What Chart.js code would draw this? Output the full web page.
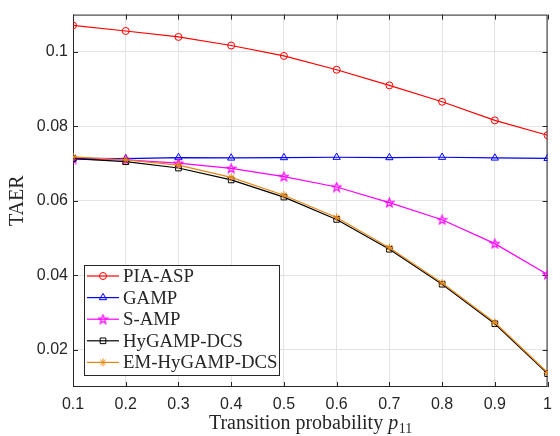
<!DOCTYPE html>
<html>
<head>
<meta charset="utf-8">
<script src="https://cdn.jsdelivr.net/npm/chart.js@4/dist/chart.umd.min.js"></script>
<style>
  html, body { margin: 0; padding: 0; background: #fff; }
  #wrap { width: 560px; height: 436px; }
</style>
</head>
<body>
<div id="wrap"><canvas id="grafico" width="560" height="436"></canvas></div>
<script>
const pValues = [0.1, 0.2, 0.3, 0.4, 0.5, 0.6, 0.7, 0.8, 0.9, 1.0];
const piaAsp = [0.1071, 0.1056, 0.1040, 0.1017, 0.0989, 0.0952, 0.0910, 0.0866, 0.0816, 0.0776];
const gamp = [0.0714, 0.0713, 0.0716, 0.0715, 0.0716, 0.0717, 0.0716, 0.0717, 0.0715, 0.0714];
const sAmp = [0.0712, 0.0710, 0.0701, 0.0687, 0.0665, 0.0637, 0.0595, 0.0549, 0.0485, 0.0402];
const hyGampDcs = [0.0713, 0.0705, 0.0688, 0.0656, 0.0610, 0.0550, 0.0470, 0.0376, 0.0270, 0.0136];
const emHyGampDcs = [0.0718, 0.0710, 0.0696, 0.0663, 0.0615, 0.0555, 0.0474, 0.0379, 0.0273, 0.0139];
const seriesNames = ["PIA-ASP", "GAMP", "S-AMP", "HyGAMP-DCS", "EM-HyGAMP-DCS"];
const xTicks = [0.1, 0.2, 0.3, 0.4, 0.5, 0.6, 0.7, 0.8, 0.9, 1];
const yTicks = [0.02, 0.04, 0.06, 0.08, 0.1];

const axisColor = "#262626";
const gridColor = "#e3e3e3";
const serif = "'Liberation Serif', 'Times New Roman', serif";
const sans = "'Liberation Sans', Arial, sans-serif";

// estrella de 5 puntas (pentagram de matlab)
function makePentagram(color) {
  const c = document.createElement("canvas");
  c.width = 11; c.height = 11;
  const g = c.getContext("2d");
  g.strokeStyle = color;
  g.fillStyle = color;
  g.lineWidth = 1.2;
  g.beginPath();
  for (let i = 0; i < 10; i++) {
    const r = i % 2 === 0 ? 4.6 : 1.9;
    const a = -Math.PI / 2 + i * Math.PI / 5;
    const px = 5.5 + r * Math.cos(a);
    const py = 5.8 + r * Math.sin(a);
    if (i === 0) g.moveTo(px, py); else g.lineTo(px, py);
  }
  g.closePath();
  g.stroke();
  return c;
}

const estilos = [
  { color: "#ff0000", pointStyle: "circle", radius: 3.5 },
  { color: "#0000ff", pointStyle: "triangle", radius: 4.2 },
  { color: "#ff00ff", pointStyle: makePentagram("#ff00ff"), radius: 4 },
  { color: "#000000", pointStyle: "rect", radius: 4 },
  { color: "rgb(230,135,20)", pointStyle: "star", radius: 4 },
];
const valores = [piaAsp, gamp, sAmp, hyGampDcs, emHyGampDcs];

const datasets = valores.map((serie, i) => ({
  label: seriesNames[i],
  data: serie.map((v, j) => ({ x: pValues[j], y: v })),
  borderColor: estilos[i].color,
  backgroundColor: "rgba(0,0,0,0)",
  borderWidth: 1.2,
  pointStyle: estilos[i].pointStyle,
  pointRadius: estilos[i].radius,
  pointBorderColor: estilos[i].color,
  pointBackgroundColor: "rgba(0,0,0,0)",
  pointBorderWidth: 1,
  tension: 0,
  order: valores.length - i,
}));

const ejesMatlab = {
  id: "ejesMatlab",
  beforeDatasetsDraw(chart) {
    const { ctx, chartArea: a, scales } = chart;
    ctx.save();
    ctx.strokeStyle = axisColor;
    ctx.lineWidth = 1;
    ctx.strokeRect(a.left + 0.5, a.top + 0.5, a.right - a.left - 1, a.bottom - a.top - 1);
    ctx.beginPath();
    xTicks.forEach(v => {
      const x = Math.round(scales.x.getPixelForValue(v)) + 0.5;
      ctx.moveTo(x, a.bottom); ctx.lineTo(x, a.bottom - 5);
      ctx.moveTo(x, a.top); ctx.lineTo(x, a.top + 5);
    });
    yTicks.forEach(v => {
      const y = Math.round(scales.y.getPixelForValue(v)) + 0.5;
      ctx.moveTo(a.left, y); ctx.lineTo(a.left + 5, y);
      ctx.moveTo(a.right, y); ctx.lineTo(a.right - 5, y);
    });
    ctx.stroke();
    ctx.restore();
  },
  afterDraw(chart) {
    const { ctx, chartArea: a } = chart;
    ctx.save();
    ctx.fillStyle = axisColor;

    // titulo eje x con subindice
    const parte1 = "Transition probability ";
    ctx.font = "20px " + serif;
    const w1 = ctx.measureText(parte1).width;
    ctx.font = "italic 20px " + serif;
    const w2 = ctx.measureText("p").width;
    ctx.font = "14px " + serif;
    const w3 = ctx.measureText("11").width;
    let x0 = (a.left + a.right) / 2 - (w1 + w2 + w3) / 2;
    const base = 429;
    ctx.textBaseline = "alphabetic";
    ctx.textAlign = "left";
    ctx.font = "20px " + serif;
    ctx.fillText(parte1, x0, base);
    ctx.font = "italic 20px " + serif;
    ctx.fillText("p", x0 + w1, base);
    ctx.font = "14px " + serif;
    ctx.fillText("11", x0 + w1 + w2 + 0.5, base + 4);

    // titulo eje y
    ctx.translate(18, (a.top + a.bottom) / 2);
    ctx.rotate(-Math.PI / 2);
    ctx.font = "20px " + serif;
    ctx.textAlign = "center";
    ctx.textBaseline = "middle";
    ctx.fillText("TAER", 0, 0);
    ctx.restore();

    // leyenda
    ctx.save();
    const box = { left: 84.5, top: 265.5, width: 195, height: 110 };
    ctx.fillStyle = "#ffffff";
    ctx.fillRect(box.left, box.top, box.width, box.height);
    ctx.strokeStyle = axisColor;
    ctx.lineWidth = 1;
    ctx.strokeRect(box.left, box.top, box.width, box.height);
    ctx.font = "18.8px " + serif;
    ctx.textBaseline = "middle";
    ctx.textAlign = "left";
    seriesNames.forEach((name, i) => {
      const y = 276 + i * 21.6;
      const est = estilos[i];
      ctx.strokeStyle = est.color;
      ctx.lineWidth = 1.2;
      ctx.beginPath();
      ctx.moveTo(87, y);
      ctx.lineTo(119, y);
      ctx.stroke();
      ctx.lineWidth = 1;
      ctx.fillStyle = "rgba(0,0,0,0)";
      Chart.helpers.drawPoint(ctx, { pointStyle: est.pointStyle, radius: est.radius, rotation: 0, borderWidth: 1 }, 103, y);
      ctx.fillStyle = axisColor;
      ctx.fillText(name, 123, y + 1);
    });
    ctx.restore();
  },
};

const ctx = document.getElementById("grafico").getContext("2d");
const miGrafico = new Chart(ctx, {
  type: "line",
  data: { datasets: datasets },
  options: {
    responsive: false,
    animation: false,
    layout: { padding: { top: 11, right: 6, left: 0, bottom: 0 } },
    scales: {
      x: {
        type: "linear",
        min: 0.1,
        max: 1,
        afterBuildTicks: scale => { scale.ticks = xTicks.map(v => ({ value: v })); },
        afterFit: scale => { scale.height = 49; },
        grid: { color: gridColor, drawTicks: false, lineWidth: 1 },
        border: { display: false },
        ticks: {
          color: axisColor,
          font: { family: sans, size: 16 },
          padding: 8,
          maxRotation: 0,
          callback: v => String(Number(v.toFixed(2))),
        },
      },
      y: {
        type: "linear",
        min: 0.01,
        max: 0.11,
        afterBuildTicks: scale => { scale.ticks = yTicks.map(v => ({ value: v })); },
        afterFit: scale => { scale.width = 73; },
        grid: { color: gridColor, drawTicks: false, lineWidth: 1 },
        border: { display: false },
        ticks: {
          color: axisColor,
          font: { family: sans, size: 16 },
          padding: 5,
          callback: v => String(Number(v.toFixed(2))),
        },
      },
    },
    plugins: {
      legend: { display: false },
      tooltip: { enabled: false },
    },
  },
  plugins: [ejesMatlab],
});
</script>
</body>
</html>
